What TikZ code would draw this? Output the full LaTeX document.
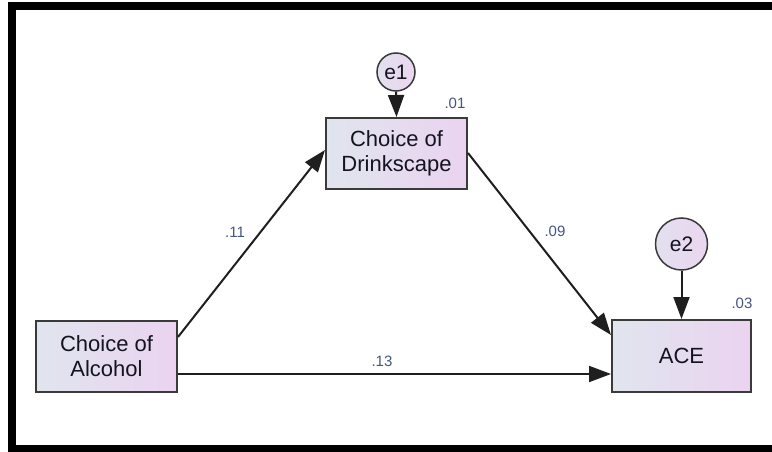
\documentclass[tikz,border=0pt]{standalone}
\usepackage{fontspec}
\setmainfont{Liberation Sans}
\usetikzlibrary{arrows.meta}
\definecolor{boxL}{HTML}{E0E5EE}
\definecolor{boxR}{HTML}{EBD3F0}
\definecolor{circL}{HTML}{E3E0EE}
\definecolor{circR}{HTML}{EAD6F0}
\definecolor{edgeC}{HTML}{3A3A3A}
\definecolor{numC}{HTML}{44557E}
\definecolor{txtC}{HTML}{141420}
\tikzset{
  obsbox/.style={draw=edgeC, line width=2pt, left color=boxL, right color=boxR,
    minimum width=#1, minimum height=71pt, inner sep=0pt, align=center,
    text=txtC, font=\fontsize{22}{25}\selectfont},
  errcirc/.style={draw=edgeC, line width=1.5pt, circle, left color=circL, right color=circR,
    minimum size=#1, inner sep=0pt, text=txtC, font=\fontsize{21}{24}\selectfont},
  path/.style={draw=black!88, line width=2pt, -{Triangle[length=22pt,width=16pt]}},
  coef/.style={text=numC, font=\fontsize{15}{17}\selectfont, inner sep=0pt}
}
\begin{document}
\begin{tikzpicture}[x=1pt,y=-1pt]
\useasboundingbox (0,0) rectangle (772,452);
% frame
\fill[black] (8,2) rectangle (772,10);
\fill[black] (8,2) rectangle (16,452);
\fill[black] (8,445) rectangle (772,452);
% nodes
\node[obsbox=141pt] (dr) at (396.5,153.5) {Choice of\\Drinkscape};
\node[obsbox=141pt] (alc) at (106.5,356.5) {Choice of\\Alcohol};
\node[obsbox=139pt, minimum height=72pt] (ace) at (681.5,356) {ACE};
\node[errcirc=38pt] (e1) at (396,72) {e1};
\node[errcirc=52pt] (e2) at (681.5,244) {e2};
% paths
\draw[path] (e1.south) -- (dr.north);
\draw[path] (e2.south) -- (ace.north);
\draw[path] ([yshift=19.5pt]alc.east) -- ([yshift=3.5pt]dr.west);
\draw[path] ([yshift=0.5pt]dr.east) -- ([yshift=21pt]ace.west);
\draw[path] ([yshift=-17.5pt]alc.east) -- ([yshift=-18pt]ace.west);
% coefficients
\node[coef] (c11) at (235,232) {.11};
\node[coef] (c09) at (555,231) {.09};
\node[coef] (c13) at (382,361) {.13};
\node[coef] (c01) at (455,103) {.01};
\node[coef] (c03) at (742,303) {.03};
\end{tikzpicture}
\end{document}
